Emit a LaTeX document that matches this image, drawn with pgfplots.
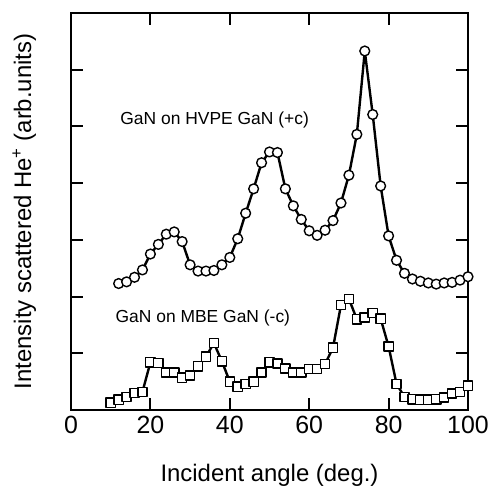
\documentclass[border=0pt]{standalone}
\usepackage{pgfplots}
\pgfplotsset{compat=1.18}
\usepackage{fontspec}
\setmainfont{Liberation Sans}
\begin{document}
\begin{tikzpicture}
\begin{axis}[
  scale only axis, width=397bp, height=397bp,
  xmin=0, xmax=100, ymin=0, ymax=7,
  xtick={0,20,40,60,80,100},
  ytick={1,2,3,4,5,6}, yticklabels={},
  tick align=inside,
  major tick length=12bp,
  every tick/.style={black, line width=2bp},
  axis line style={line width=2.2bp},
  tick label style={font=\fontsize{25}{29}\selectfont},
  xticklabel style={yshift=-3bp},
  /pgf/number format/assume math mode=true,
  xlabel={Incident angle (deg.)},
  ylabel={Intensity scattered He\textsuperscript{+} (arb.units)},
  label style={font=\fontsize{24}{28}\selectfont},
  xlabel style={at={(axis description cs:0.5,-0.1637)}, anchor=center},
  ylabel style={at={(axis description cs:-0.118,0.5)}, anchor=center},
  clip=false,
]
\addplot[black, line width=2.4bp, line join=round, mark=*, mark size=4.9bp,
  mark options={solid, fill=white, draw=black, line width=1.4bp}] coordinates {
(12,2.23)(14,2.26)(16,2.34)(18,2.47)(20,2.75)(22,2.92)(24,3.10)(26,3.14)
(28,2.97)(30,2.56)(32,2.45)(34,2.45)(36,2.46)(38,2.56)(40,2.69)(42,3.02)
(44,3.47)(46,3.90)(48,4.36)(50,4.55)(52,4.54)(54,3.90)(56,3.60)(58,3.36)
(60,3.16)(62,3.08)(64,3.17)(66,3.34)(68,3.65)(70,4.14)(72,4.86)(74,6.33)
(76,5.21)(78,3.95)(80,3.07)(82,2.64)(84,2.41)(86,2.31)(88,2.27)(90,2.24)
(92,2.22)(94,2.24)(96,2.25)(98,2.29)(100,2.35)
};
\addplot[black, line width=2.4bp, line join=round, mark=square*, mark size=4.6bp,
  mark options={solid, fill=white, draw=black, line width=1.4bp}] coordinates {
(10,0.13)(12,0.18)(14,0.23)(16,0.30)(18,0.32)(20,0.84)(22,0.83)(24,0.66)
(26,0.66)(28,0.57)(30,0.61)(32,0.77)(34,0.94)(36,1.18)(38,0.86)(40,0.50)
(42,0.41)(44,0.46)(46,0.50)(48,0.66)(50,0.84)(52,0.82)(54,0.73)(56,0.66)
(58,0.66)(60,0.72)(62,0.72)(64,0.81)(66,1.10)(68,1.85)(70,1.96)(72,1.60)
(74,1.63)(76,1.71)(78,1.61)(80,1.12)(82,0.46)(84,0.23)(86,0.19)(88,0.18)
(90,0.18)(92,0.19)(94,0.22)(96,0.29)(98,0.32)(100,0.43)
};
\node[anchor=west, font=\fontsize{17.5}{20}\selectfont, inner sep=0pt] at (axis cs:12.4,5.12) {GaN on HVPE GaN (+c)};
\node[anchor=west, font=\fontsize{17.5}{20}\selectfont, inner sep=0pt] at (axis cs:11.2,1.63) {GaN on MBE GaN (-c)};
\end{axis}
\pgfresetboundingbox
\path (current axis.south west) ++(-71bp,-81bp) rectangle ++(491bp,491bp);
\end{tikzpicture}
\end{document}
